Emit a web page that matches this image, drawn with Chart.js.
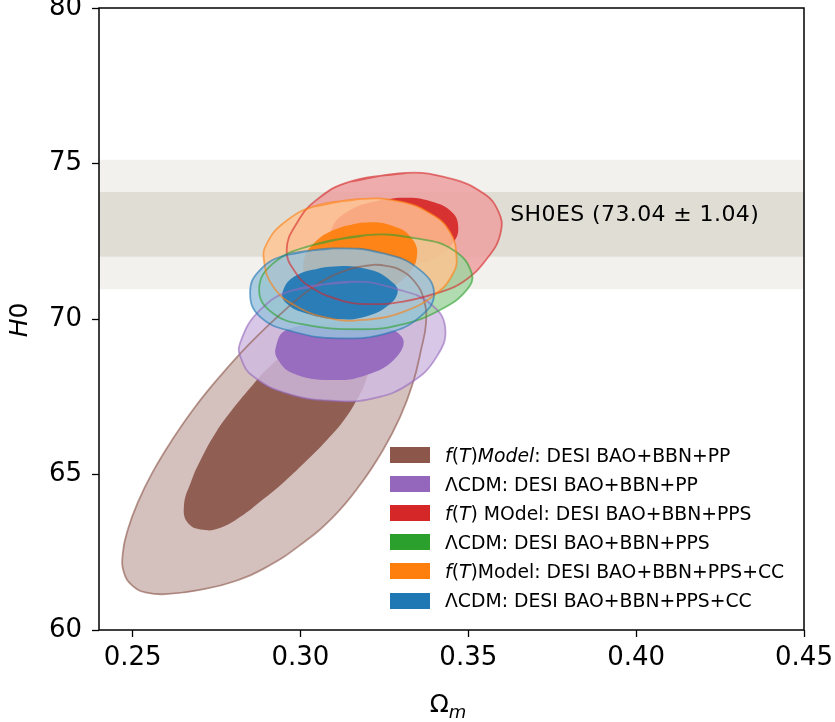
<!DOCTYPE html>
<html>
<head>
<meta charset="utf-8">
<script src="https://cdn.jsdelivr.net/npm/chart.js@4.4.1/dist/chart.umd.min.js"></script>
<style>
  body { margin: 0; background: #fff; }
  #wrap { position: relative; width: 835px; height: 722px; font-family: 'DejaVu Sans', sans-serif; color: #000; }
  #chart { position: absolute; left: 0; top: 0; }
  .row { position: absolute; left: 390px; height: 29px; line-height: 29px; font-size: 18.8px; white-space: nowrap; }
  .box { position: absolute; left: 0; top: 6.5px; width: 40px; height: 16px; }
  .txt { position: absolute; left: 55px; top: 0; }
  #xtitle { position: absolute; left: 348px; top: 691px; width: 200px; text-align: center; font-size: 25px; line-height: 25px; }
  #xtitle sub { font-size: 18px; vertical-align: -6px; line-height: 0; }
  #ytitle { position: absolute; left: -31px; top: 305px; width: 100px; height: 30px; line-height: 30px; text-align: center; font-size: 25px; transform: rotate(-90deg); }
</style>
</head>
<body>
<div id="wrap">
  <canvas id="chart" width="835" height="722"></canvas>
  <div id="legend"></div>
  <div id="xtitle">Ω<sub><i>m</i></sub></div>
  <div id="ytitle"><i>H</i>0</div>
</div>
<script>
// axis ranges and ticks
var xLimits = [0.24, 0.45];
var yLimits = [60, 80];
var xTicks = [0.25, 0.30, 0.35, 0.40, 0.45];
var yTicks = [60, 65, 70, 75, 80];

// SH0ES prior
var shoesH0 = 73.04;
var shoesSigma = 1.04;
var shoesLabel = 'SH0ES (73.04 \u00b1 1.04)';
var shoesLabelAt = [0.3625, 73.33];

var legendLabels = [
    '<i>f</i>(<i>T</i>)<i>Model</i>: DESI BAO+BBN+PP',
    '\u039bCDM: DESI BAO+BBN+PP',
    '<i>f</i>(<i>T</i>) MOdel: DESI BAO+BBN+PPS',
    '\u039bCDM: DESI BAO+BBN+PPS',
    '<i>f</i>(<i>T</i>)Model: DESI BAO+BBN+PPS+CC',
    '\u039bCDM: DESI BAO+BBN+PPS+CC'
];

// contour boundaries (Omega_m, H0)

// f(T): DESI BAO+BBN+PP
var ftPP_outer = [[0.3216,71.74],[0.3148,71.61],[0.3045,71.08],[0.2948,70.23],[0.2851,69.23],[0.2763,68.19],[0.2684,67.14],[0.2616,66.08],[0.2559,65.06],[0.2516,64.11],[0.2486,63.23],[0.2471,62.48],[0.2474,61.86],[0.2501,61.41],[0.2546,61.19],[0.2606,61.16],[0.2701,61.29],[0.2802,61.56],[0.2900,62.03],[0.2999,62.73],[0.3097,63.63],[0.3177,64.66],[0.3246,65.79],[0.3297,66.85],[0.3335,67.94],[0.3359,69.00],[0.3374,69.87],[0.3368,70.61],[0.3341,71.19],[0.3297,71.58],[0.3261,71.70]];
var ftPP_inner = [[0.3097,69.49],[0.3029,69.23],[0.2960,68.91],[0.2903,68.42],[0.2850,67.78],[0.2796,67.07],[0.2749,66.37],[0.2707,65.56],[0.2674,64.76],[0.2653,63.99],[0.2665,63.44],[0.2710,63.22],[0.2760,63.28],[0.2820,63.63],[0.2886,64.18],[0.2948,64.73],[0.3014,65.40],[0.3079,66.11],[0.3130,66.75],[0.3168,67.40],[0.3195,68.01],[0.3207,68.59],[0.3198,69.04],[0.3171,69.36],[0.3136,69.49]];

// LCDM: DESI BAO+BBN+PP
var lcdmPP_outer = [[0.3158,71.20],[0.2979,70.93],[0.2880,70.29],[0.2820,69.22],[0.2825,68.68],[0.2860,68.15],[0.2959,67.61],[0.3098,67.37],[0.3217,67.45],[0.3326,67.93],[0.3406,68.79],[0.3431,69.75],[0.3386,70.50],[0.3297,70.93]];
var lcdmPP_inner = [[0.3098,69.86],[0.2959,69.65],[0.2927,69.11],[0.2934,68.68],[0.2979,68.25],[0.3088,68.04],[0.3197,68.20],[0.3287,68.79],[0.3302,69.43],[0.3217,69.81]];

// f(T): DESI BAO+BBN+PPS
var ftPPS_outer = [[0.3317,74.70],[0.3148,74.42],[0.3048,73.83],[0.2989,73.08],[0.2959,72.22],[0.2985,71.50],[0.3029,71.04],[0.3118,70.61],[0.3207,70.48],[0.3306,70.56],[0.3406,70.83],[0.3485,71.20],[0.3560,72.00],[0.3597,72.80],[0.3590,73.45],[0.3545,74.04],[0.3445,74.52]];
var ftPPS_inner = [[0.3310,73.90],[0.3220,73.78],[0.3140,73.45],[0.3095,72.95],[0.3095,72.40],[0.3140,71.98],[0.3220,71.72],[0.3320,71.72],[0.3410,72.02],[0.3455,72.45],[0.3470,72.97],[0.3450,73.45],[0.3390,73.78]];

// LCDM: DESI BAO+BBN+PPS
var lcdmPPS_outer = [[0.3197,72.70],[0.3038,72.38],[0.2919,71.79],[0.2877,70.93],[0.2919,70.18],[0.3018,69.81],[0.3177,69.67],[0.3297,69.81],[0.3416,70.29],[0.3495,70.93],[0.3510,71.47],[0.3455,72.22],[0.3346,72.59]];
var lcdmPPS_inner = [[0.3140,71.50],[0.3060,71.35],[0.3020,70.95],[0.3060,70.55],[0.3140,70.40],[0.3220,70.55],[0.3260,70.95],[0.3220,71.35]];

// f(T): DESI BAO+BBN+PPS+CC
var ftCC_outer = [[0.3168,73.85],[0.3038,73.61],[0.2949,73.08],[0.2900,72.43],[0.2891,71.90],[0.2919,71.04],[0.2989,70.40],[0.3088,70.02],[0.3187,69.97],[0.3306,70.23],[0.3406,70.83],[0.3455,71.47],[0.3465,72.00],[0.3445,72.81],[0.3386,73.40],[0.3287,73.80]];
var ftCC_inner = [[0.3193,73.10],[0.3107,72.89],[0.3039,72.42],[0.3009,71.81],[0.3024,71.23],[0.3080,70.83],[0.3163,70.72],[0.3250,70.93],[0.3317,71.40],[0.3347,72.01],[0.3332,72.59],[0.3276,72.99]];

// LCDM: DESI BAO+BBN+PPS+CC
var lcdmCC_outer = [[0.3098,72.27],[0.2959,72.06],[0.2880,71.58],[0.2850,70.85],[0.2880,70.07],[0.2979,69.59],[0.3118,69.38],[0.3257,69.54],[0.3356,70.07],[0.3398,70.80],[0.3356,71.58],[0.3247,72.11]];
var lcdmCC_inner = [[0.3088,71.68],[0.2989,71.41],[0.2947,70.88],[0.2959,70.50],[0.3018,70.18],[0.3118,69.99],[0.3200,70.10],[0.3257,70.40],[0.3289,70.83],[0.3277,71.15],[0.3207,71.58]];

var outerContours = [ftPP_outer, lcdmPP_outer, ftPPS_outer, lcdmPPS_outer, ftCC_outer, lcdmCC_outer];
var innerContours = [ftPP_inner, lcdmPP_inner, ftPPS_inner, lcdmPPS_inner, ftCC_inner, lcdmCC_inner];

// tab10 colours, same order as the legend
var modelRGB = [[140,86,75],[148,103,189],[214,39,40],[44,160,44],[255,127,14],[31,119,180]];


function rgba(c, a) {
    return 'rgba(' + c[0] + ',' + c[1] + ',' + c[2] + ',' + a + ')';
}

// lighter shade for the 2 sigma region
function tint(c, f) {
    return c.map(function (v) { return Math.round(255 - f * (255 - v)); });
}

// closed curve: go round once and step over the start so the join stays smooth
function closedPath(pts) {
    return pts.concat([pts[0], pts[1]]).map(function (p) { return {x: p[0], y: p[1]}; });
}

function band(k) {
    var lo = shoesH0 - k * shoesSigma, hi = shoesH0 + k * shoesSigma;
    return [
        {x: xLimits[0], y: lo}, {x: xLimits[1], y: lo},
        {x: xLimits[1], y: hi}, {x: xLimits[0], y: hi}
    ];
}

var datasets = [];

// SH0ES bands
datasets.push({data: band(2), fill: 'shape', backgroundColor: '#f2f1ed', borderWidth: 0, tension: 0, order: 101});
datasets.push({data: band(1), fill: 'shape', backgroundColor: '#e0ded4', borderWidth: 0, tension: 0, order: 100});

// each model: 2 sigma fill then 1 sigma fill, later models on top; 2 sigma outlines over everything
outerContours.forEach(function (c, i) {
    datasets.push({data: closedPath(c), fill: 'shape', backgroundColor: rgba(tint(modelRGB[i], 0.45), 0.82),
        borderWidth: 0, tension: 0.45, order: 60 - 2 * i});
    datasets.push({data: closedPath(innerContours[i]), fill: 'shape', backgroundColor: rgba(modelRGB[i], 0.92),
        borderWidth: 0, tension: 0.45, order: 59 - 2 * i});
});
outerContours.forEach(function (c, i) {
    datasets.push({data: closedPath(c), fill: false, borderColor: rgba(modelRGB[i], 0.6),
        borderWidth: 1.8, tension: 0.45, order: 20 - i});
});

var framePlugin = {
    id: 'frame',
    afterDatasetsDraw: function (chart) {
        var ctx = chart.ctx, a = chart.chartArea;
        var x = chart.scales.x, y = chart.scales.y;
        ctx.save();
        ctx.fillStyle = '#000';
        ctx.font = '22px "DejaVu Sans"';
        ctx.letterSpacing = '0.4px';
        ctx.textBaseline = 'middle';
        ctx.fillText(shoesLabel, x.getPixelForValue(shoesLabelAt[0]), y.getPixelForValue(shoesLabelAt[1]));
        ctx.strokeStyle = '#000';
        ctx.lineWidth = 1.5;
        ctx.strokeRect(a.left, a.top, a.right - a.left, a.bottom - a.top);
        ctx.restore();
    }
};

var tickFont = {family: 'DejaVu Sans', size: 26};

new Chart(document.getElementById('chart'), {
    type: 'scatter',
    data: {datasets: datasets},
    options: {
        responsive: false,
        animation: false,
        events: [],
        showLine: true,
        elements: {point: {radius: 0, hoverRadius: 0}},
        layout: {padding: {left: 0, right: 31, top: 8, bottom: 0}},
        plugins: {legend: {display: false}, tooltip: {enabled: false}},
        scales: {
            x: {
                type: 'linear', min: xLimits[0], max: xLimits[1],
                afterBuildTicks: function (s) { s.ticks = xTicks.map(function (v) { return {value: v}; }); },
                afterFit: function (s) { s.height = 92; s.paddingLeft = 0; s.paddingRight = 0; },
                grid: {display: true, drawOnChartArea: false, drawTicks: true, tickLength: 7, color: '#000', tickWidth: 1.3},
                border: {display: false},
                ticks: {font: tickFont, color: '#000', padding: 6, maxRotation: 0, autoSkip: false,
                    callback: function (v) { return v.toFixed(2); }}
            },
            y: {
                type: 'linear', min: yLimits[0], max: yLimits[1],
                afterBuildTicks: function (s) { s.ticks = yTicks.map(function (v) { return {value: v}; }); },
                afterFit: function (s) { s.width = 99; s.paddingTop = 0; s.paddingBottom = 0; },
                grid: {display: true, drawOnChartArea: false, drawTicks: true, tickLength: 7, color: '#000', tickWidth: 1.3},
                border: {display: false},
                ticks: {font: tickFont, color: '#000', padding: 10, autoSkip: false,
                    callback: function (v) { return String(v); }}
            }
        }
    },
    plugins: [framePlugin]
});

// legend inside the axes, lower right
var legend = document.getElementById('legend');
legendLabels.forEach(function (lab, i) {
    var row = document.createElement('div');
    row.className = 'row';
    row.style.top = (440.5 + i * 29.1) + 'px';
    row.innerHTML = '<span class="box" style="background:' + rgba(modelRGB[i], 1) + '"></span><span class="txt">' + lab + '</span>';
    legend.appendChild(row);
});
</script>
</body>
</html>
